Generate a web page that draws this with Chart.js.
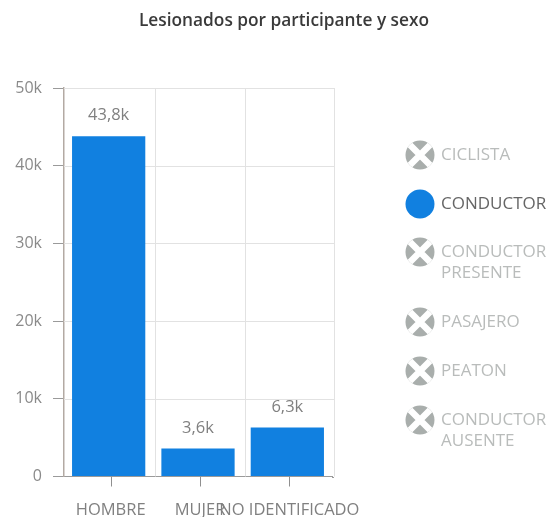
<!DOCTYPE html>
<html lang="es">
<head>
<meta charset="utf-8">
<title>Lesionados por participante y sexo</title>
<script src="https://cdn.jsdelivr.net/npm/chart.js@4"></script>
<style>
  html, body { margin: 0; padding: 0; background: #fff; }
  #box { position: relative; width: 549px; height: 517px; }
</style>
</head>
<body>
<div id="box"><canvas id="chart" width="549" height="517"></canvas></div>
<script>
var TITLE = "Lesionados por participante y sexo";
var categories = ["HOMBRE", "MUJER", "NO IDENTIFICADO"];
var conductor = [43800, 3600, 6300];
var valueLabels = ["43,8k", "3,6k", "6,3k"];
var yTicks = [0, 10000, 20000, 30000, 40000, 50000];
var yTickLabels = ["0", "10k", "20k", "30k", "40k", "50k"];
var legendNames = [["CICLISTA"], ["CONDUCTOR"], ["CONDUCTOR", "PRESENTE"], ["PASAJERO"], ["PEATON"], ["CONDUCTOR", "AUSENTE"]];
var legendActive = [false, true, false, false, false, false];
var legendY = [155, 204, 252, 322, 371, 420];

var BLUE = "#1180e0";
var FONT = "'Open Sans', Lato, sans-serif";
var GRID_SHIFT = 2; // the reference's grid and ticks sit 2px right of its bars

var extras = {
  id: "extras",
  // grid drawn here so it can carry the shift
  beforeDatasetsDraw: function (c) {
    var ctx = c.ctx, x = c.scales.x, y = c.scales.y, area = c.chartArea;
    var step = x.getPixelForTick(1) - x.getPixelForTick(0);
    ctx.save();
    ctx.strokeStyle = "#e2e2e2";
    ctx.lineWidth = 1;
    categories.forEach(function (n, i) {
      var px = Math.round(x.getPixelForTick(i) + step / 2 + GRID_SHIFT) + 0.5;
      ctx.beginPath();
      ctx.moveTo(px, area.top);
      ctx.lineTo(px, area.bottom);
      ctx.stroke();
    });
    yTicks.forEach(function (v) {
      if (v === 0) return;
      var py = Math.round(y.getPixelForValue(v)) + 0.5;
      ctx.beginPath();
      ctx.moveTo(area.left, py);
      ctx.lineTo(area.right + GRID_SHIFT, py);
      ctx.stroke();
    });
    ctx.strokeStyle = "#9a9a9a";
    ctx.beginPath();
    ctx.moveTo(area.right, Math.round(area.bottom) + 0.5);
    ctx.lineTo(area.right + GRID_SHIFT, Math.round(area.bottom) + 0.5);
    ctx.stroke();
    ctx.restore();
  },
  afterDatasetsDraw: function (c) {
    var ctx = c.ctx, meta = c.getDatasetMeta(0), x = c.scales.x, area = c.chartArea;
    ctx.save();

    // title
    ctx.font = "600 17.3px " + FONT;
    ctx.fillStyle = "#3a3a3a";
    ctx.textAlign = "center";
    ctx.textBaseline = "middle";
    ctx.fillText(TITLE, 284, 21);

    // value labels
    ctx.font = "16.5px " + FONT;
    ctx.fillStyle = "#808080";
    meta.data.forEach(function (bar, i) {
      ctx.fillText(valueLabels[i], bar.x, bar.y - 20.5);
    });

    // x ticks sit mid category, grid lines on the boundaries
    ctx.strokeStyle = "#8f8f8f";
    ctx.lineWidth = 1;
    categories.forEach(function (n, i) {
      var px = Math.round(x.getPixelForTick(i) + GRID_SHIFT) + 0.5;
      ctx.beginPath();
      ctx.moveTo(px, area.bottom);
      ctx.lineTo(px, area.bottom + 10);
      ctx.stroke();
    });

    // legend
    ctx.textAlign = "left";
    legendNames.forEach(function (lines, i) {
      var cy = legendY[i], cx = 420, r = 14.5;
      ctx.beginPath();
      ctx.arc(cx, cy, r, 0, Math.PI * 2);
      ctx.fillStyle = legendActive[i] ? BLUE : "#a9aeac";
      ctx.fill();
      if (!legendActive[i]) {
        ctx.save();
        ctx.beginPath();
        ctx.arc(cx, cy, r, 0, Math.PI * 2);
        ctx.clip();
        ctx.strokeStyle = "#fff";
        ctx.lineWidth = 6.5;
        ctx.beginPath();
        ctx.moveTo(cx - r, cy - r);
        ctx.lineTo(cx + r, cy + r);
        ctx.moveTo(cx + r, cy - r);
        ctx.lineTo(cx - r, cy + r);
        ctx.stroke();
        ctx.restore();
      }
      ctx.fillStyle = legendActive[i] ? "#666666" : "#b9bcbb";
      ctx.font = "17px " + FONT;
      lines.forEach(function (t, k) {
        ctx.fillText(t, 441, cy + k * 20.5 + 0.5);
      });
    });
    ctx.restore();
  }
};

new Chart(document.getElementById("chart"), {
  type: "bar",
  data: {
    labels: categories,
    datasets: [{ label: "CONDUCTOR", data: conductor, backgroundColor: BLUE, categoryPercentage: 0.82, barPercentage: 1 }]
  },
  plugins: [extras],
  options: {
    responsive: false,
    animation: false,
    events: [],
    layout: { padding: { top: 88, right: 217, bottom: 0, left: 0 } },
    plugins: {
      legend: { display: false },
      tooltip: { enabled: false },
      title: { display: false }
    },
    scales: {
      x: {
        offset: true,
        afterFit: function (s) { s.height = 40.5; },
        grid: { display: false },
        border: { color: "#9a9a9a", width: 1 },
        ticks: {
          autoSkip: false, maxRotation: 0, minRotation: 0,
          color: "#808080", padding: 16, labelOffset: GRID_SHIFT,
          font: { family: FONT, size: 16.5 }
        }
      },
      y: {
        min: 0, max: 50000,
        afterFit: function (s) { s.width = 64; },
        afterBuildTicks: function (s) { s.ticks = yTicks.map(function (v) { return { value: v }; }); },
        grid: { drawOnChartArea: false, tickColor: "#9a9a9a", tickLength: 11, lineWidth: 1 },
        border: { color: "#b3aaa3", width: 1.5 },
        ticks: {
          color: "#8a8a8a", padding: 11,
          font: { family: FONT, size: 16 },
          callback: function (v) { return yTickLabels[yTicks.indexOf(v)]; }
        }
      }
    }
  }
});
</script>
</body>
</html>
